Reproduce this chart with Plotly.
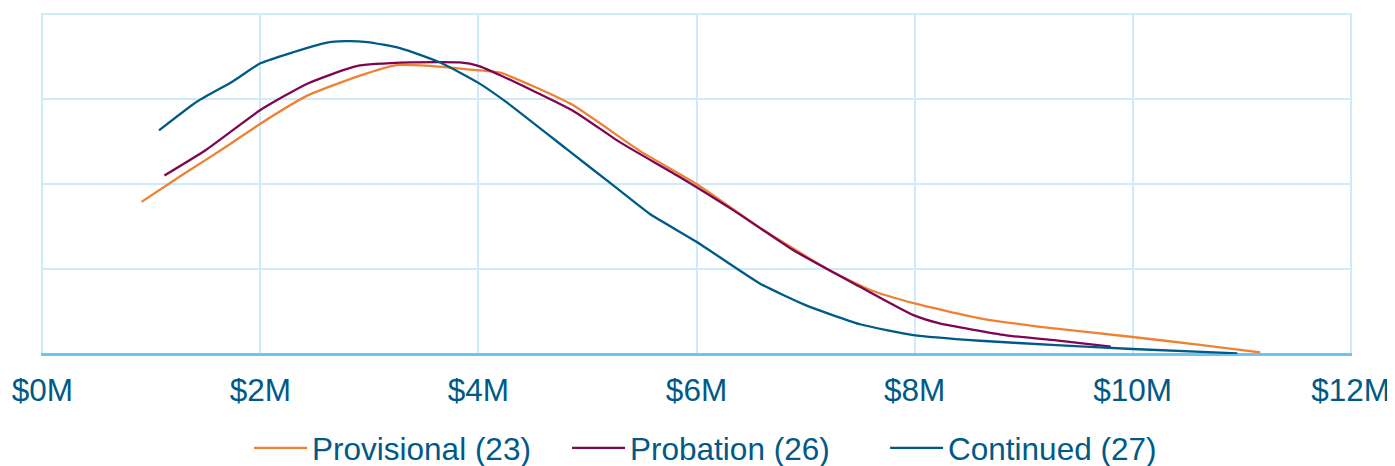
import plotly.graph_objects as go

# Values in millions of dollars (x) and relative density (y)
prov_x = [0.91, 1.3, 1.7, 2.0, 2.43, 2.9, 3.25, 3.55, 3.9, 4.2, 4.85, 5.48, 6.0, 6.6, 7.22, 7.6, 8.0, 8.6, 9.15, 10.0, 10.6, 11.17]
prov_y = [1.79, 2.12, 2.45, 2.71, 3.04, 3.27, 3.40, 3.39, 3.35, 3.31, 2.94, 2.39, 2.00, 1.47, 0.985, 0.75, 0.595, 0.42, 0.32, 0.20, 0.11, 0.02]

prob_x = [1.12, 1.5, 2.0, 2.43, 2.89, 3.38, 3.83, 4.0, 4.2, 4.87, 5.3, 5.85, 6.34, 6.89, 7.5, 7.99, 8.23, 8.84, 9.3, 9.8]
prob_y = [2.10, 2.40, 2.87, 3.18, 3.39, 3.43, 3.43, 3.39, 3.28, 2.86, 2.49, 2.08, 1.69, 1.22, 0.79, 0.457, 0.36, 0.22, 0.16, 0.086]

cont_x = [1.07, 1.42, 1.75, 2.0, 2.3, 2.6, 2.77, 2.98, 3.28, 3.65, 4.0, 4.26, 4.81, 5.24, 5.57, 6.0, 6.58, 7.0, 7.5, 7.99, 8.6, 9.3, 10.0, 10.96]
cont_y = [2.63, 2.97, 3.21, 3.42, 3.55, 3.66, 3.68, 3.67, 3.60, 3.43, 3.19, 2.96, 2.41, 1.98, 1.65, 1.32, 0.83, 0.575, 0.35, 0.223, 0.156, 0.105, 0.059, 0.008]

series_names = ["Provisional (23)", "Probation (26)", "Continued (27)"]
series_colors = ["#EF8133", "#7E0552", "#005A87"]

tick_vals = [0, 2, 4, 6, 8, 10, 12]
tick_text = ["$0M", "$2M", "$4M", "$6M", "$8M", "$10M", "$12M"]

TEXT = "#005A87"
GRID = "#CDEBFA"
AXIS = "#6CC4F0"
FONT = "Liberation Sans, Arial, sans-serif"
FS = 31.5

fig = go.Figure()
for xs, ys, name, color in zip([prov_x, prob_x, cont_x], [prov_y, prob_y, cont_y], series_names, series_colors):
    fig.add_trace(go.Scatter(
        x=xs, y=ys, mode="lines", name=name,
        line=dict(color=color, width=2.3, shape="spline", smoothing=0.5),
        hoverinfo="skip",
    ))

fig.update_layout(
    width=1387, height=458,
    margin=dict(l=33, r=43, t=5, b=112, autoexpand=False),
    paper_bgcolor="white", plot_bgcolor="white",
    font=dict(family=FONT, size=FS, color=TEXT),
    showlegend=True,
    legend=dict(
        orientation="h", x=0.1587, xanchor="left", y=-0.196, yanchor="top",
        font=dict(family=FONT, size=FS, color=TEXT),
        itemwidth=53, entrywidth=250, entrywidthmode="pixels",
        tracegroupgap=0, bgcolor="rgba(0,0,0,0)",
    ),
    xaxis=dict(
        range=[-0.012, 12.012], tickmode="array", tickvals=tick_vals, ticktext=tick_text,
        showgrid=True, gridcolor=GRID, gridwidth=1.6,
        zeroline=False, showline=False, ticks="", automargin=False,
        ticklabelstandoff=14,
        tickfont=dict(family=FONT, size=FS, color=TEXT),
        fixedrange=True,
    ),
    yaxis=dict(
        range=[0, 4.012], tickvals=[0, 1, 2, 3, 4], showticklabels=False,
        showgrid=True, gridcolor=GRID, gridwidth=1.6,
        zeroline=True, zerolinecolor=AXIS, zerolinewidth=2.5,
        showline=False, ticks="", fixedrange=True, automargin=False,
    ),
)

fig.write_html("out.html")
